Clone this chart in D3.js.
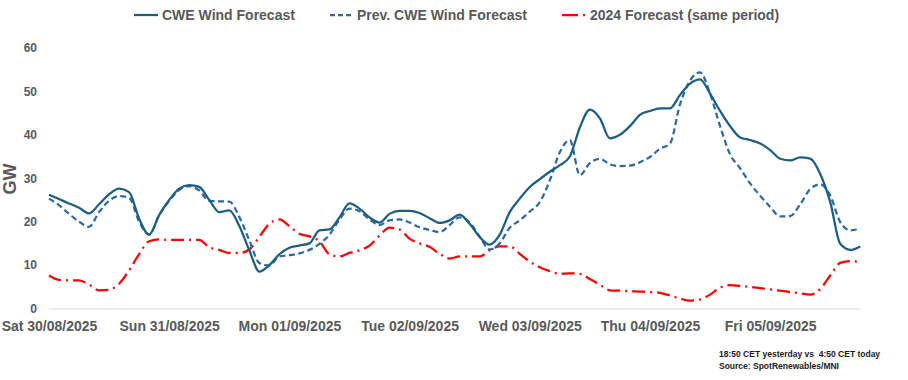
<!DOCTYPE html>
<html>
<head>
<meta charset="utf-8">
<script src="https://cdn.jsdelivr.net/npm/d3@7"></script>
<style>
  html, body { margin: 0; padding: 0; background: #fff; }
  svg { display: block; }
  text { font-family: "Liberation Sans", Arial, sans-serif; }
</style>
</head>
<body>
<svg id="chart" width="908" height="380"></svg>
<script>
// Hours since Sat 30/08/2025 00:00 (2-hourly samples)
const hours = d3.range(0, 163, 2);

const dayLabels = ["Sat 30/08/2025", "Sun 31/08/2025", "Mon 01/09/2025", "Tue 02/09/2025",
                   "Wed 03/09/2025", "Thu 04/09/2025", "Fri 05/09/2025"];
const dayHours = [0, 24, 48, 72, 96, 120, 144];
const yTicks = [0, 10, 20, 30, 40, 50, 60];

const cweForecast = [
  26.2, 25.2, 24.2, 23.2, 21.9, 24.0, 26.3, 27.6, 26.8, 20.7,
  17.0, 21.5, 25.0, 27.6, 28.4, 28.0, 25.0, 22.2, 22.6, 19.0,
  13.4, 8.5, 10.0, 12.5, 14.0, 14.5, 15.0, 18.0, 18.2, 21.0,
  24.2, 23.0, 21.0, 19.8, 21.8, 22.5, 22.5, 22.0, 20.8, 19.7,
  20.3, 21.6, 19.5, 16.5, 14.7, 17.0, 22.2, 25.3, 28.0, 29.8,
  31.5, 33.0, 35.0, 41.7, 45.8, 43.8, 39.2, 40.0, 42.0, 44.6,
  45.5, 46.1, 46.1, 49.2, 51.8, 52.8, 49.5, 45.5, 42.0, 39.4,
  38.8, 38.0, 36.5, 34.5, 34.1, 34.8, 34.5, 31.0, 24.5, 14.9,
  13.5, 14.3
];

const prevCweForecast = [
  25.3, 23.8, 21.8, 20.0, 18.8, 22.2, 24.8, 25.9, 25.5, 20.0,
  17.0, 21.5, 24.8, 27.3, 28.2, 27.2, 24.8, 24.7, 24.6, 21.1,
  15.7, 10.5, 9.9, 12.0, 12.3, 12.7, 13.5, 14.9, 17.0, 20.5,
  23.0, 22.4, 20.5, 19.2, 20.3, 20.5, 19.8, 18.7, 18.1, 17.6,
  19.2, 21.0, 19.8, 16.5, 13.6, 15.0, 18.6, 20.3, 22.3, 24.5,
  29.5, 36.0, 38.8, 30.7, 33.5, 34.5, 33.2, 32.8, 32.9, 33.7,
  34.9, 36.8, 38.0, 47.0, 52.5, 54.4, 49.5, 42.0, 35.5, 32.3,
  28.8, 26.0, 23.4, 21.2, 21.3, 24.0, 27.5, 28.6, 26.0, 19.9,
  18.0, 18.4
];

const forecast2024 = [
  7.6, 6.6, 6.5, 6.5, 5.5, 4.2, 4.3, 5.7, 8.8, 12.5,
  15.5, 15.9, 15.8, 15.8, 15.8, 15.8, 14.1, 13.5, 12.8, 12.8,
  13.6, 16.5, 19.5, 20.5, 19.0, 17.2, 16.6, 15.5, 12.5, 12.0,
  12.8, 13.4, 14.5, 16.8, 18.6, 18.2, 16.1, 15.0, 14.2, 12.6,
  11.5, 12.0, 12.0, 12.0, 13.4, 14.3, 14.3, 12.6, 10.8, 9.5,
  8.6, 8.0, 8.1, 8.0, 6.8, 5.5, 4.2, 4.1, 4.0, 3.9,
  3.8, 3.6, 3.0, 2.3, 1.8, 2.1, 3.2, 4.8, 5.4, 5.2,
  5.0, 4.7, 4.4, 4.1, 3.8, 3.5, 3.2, 4.5, 7.6, 10.5,
  10.9, 10.7
];

const seriesNames = ["CWE Wind Forecast", "Prev. CWE Wind Forecast", "2024 Forecast (same period)"];
const footnotes = ["18:50 CET yesterday vs  4:50 CET today", "Source: SpotRenewables/MNI"];
const yAxisTitle = "GW";

const svg = d3.select("#chart");
const x = d3.scaleLinear().domain([0, 162]).range([49, 860.3]);
const y = d3.scaleLinear().domain([0, 60]).range([308.5, 48]);

const grey = "#595959";

// baseline
svg.append("line")
  .attr("x1", x(0)).attr("x2", x(162))
  .attr("y1", y(0) + 0.5).attr("y2", y(0) + 0.5)
  .attr("stroke", "#d9d9d9").attr("stroke-width", 1);

// y axis labels
const yAxis = d3.axisLeft(y).tickValues(yTicks).tickSize(0).tickPadding(0);
const yG = svg.append("g").attr("transform", "translate(37,0)").call(yAxis);
yG.select(".domain").remove();
yG.selectAll("text")
  .attr("font-family", "'Liberation Sans', Arial, sans-serif")
  .attr("font-size", 12).attr("font-weight", "bold").attr("fill", grey);

// x axis labels
const xAxis = d3.axisBottom(x).tickValues(dayHours).tickSize(0).tickPadding(0)
  .tickFormat((d, i) => dayLabels[i]);
const xG = svg.append("g").attr("transform", "translate(0,321)").call(xAxis);
xG.select(".domain").remove();
xG.selectAll("text")
  .attr("font-family", "'Liberation Sans', Arial, sans-serif")
  .attr("font-size", 14).attr("font-weight", "bold").attr("fill", grey);

// y title
svg.append("text")
  .attr("transform", "translate(16,179) rotate(-90)")
  .attr("text-anchor", "middle")
  .attr("font-size", 18).attr("font-weight", "bold").attr("fill", grey)
  .text(yAxisTitle);

const line = (vals) => d3.line()
  .x((d, i) => x(hours[i]))
  .y(d => y(d))
  .curve(d3.curveMonotoneX)(vals);

const styles = [
  { color: "#1d5f82", dash: null },
  { color: "#2e6aa0", dash: "6,3.5" },
  { color: "#ff0000", dash: "13,5,2,5" }
];
const data = [cweForecast, prevCweForecast, forecast2024];

// draw red first, then prev, then cwe
[2, 1, 0].forEach(k => {
  svg.append("path")
    .attr("d", line(data[k]))
    .attr("fill", "none")
    .attr("stroke", styles[k].color)
    .attr("stroke-width", 2.25)
    .attr("stroke-linejoin", "round")
    .attr("stroke-dasharray", styles[k].dash);
});

// legend
const legendItems = [
  { x: 134, tx: 162 },
  { x: 330, tx: 357 },
  { x: 562, tx: 590 }
];
legendItems.forEach((it, k) => {
  svg.append("line")
    .attr("x1", it.x).attr("x2", it.x + 24)
    .attr("y1", 15).attr("y2", 15)
    .attr("stroke", styles[k].color).attr("stroke-width", 2.25)
    .attr("stroke-dasharray", k === 1 ? "5,3" : (k === 2 ? "16,5,2,5" : null));
  svg.append("text")
    .attr("x", it.tx).attr("y", 20)
    .attr("font-size", 14).attr("font-weight", "bold").attr("fill", grey)
    .text(seriesNames[k]);
});

// footnotes
footnotes.forEach((t, i) => {
  svg.append("text")
    .attr("x", 719).attr("y", 357 + i * 12)
    .attr("font-size", 8.5).attr("font-weight", "bold").attr("fill", "#1a1a1a")
    .style("white-space", "pre")
    .text(t);
});
</script>
</body>
</html>
